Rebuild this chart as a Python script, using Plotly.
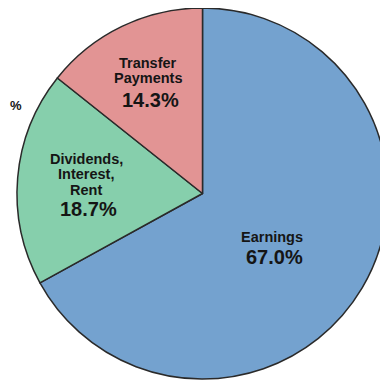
import plotly.graph_objects as go

# page body has an 8px margin, so the figure is drawn 8px in and sized to fit the window
OFF = 8
W, H = 380, 375

labels = ["Earnings", "Dividends, Interest, Rent", "Transfer Payments"]
values = [67.0, 18.7, 14.3]
colors = ["#74a2cf", "#86cfac", "#e29494"]
label_lines = [["Earnings"], ["Dividends,", "Interest,", "Rent"], ["Transfer", "Payments"]]

fig = go.Figure(go.Pie(
    labels=labels, values=values, sort=False, direction="clockwise", rotation=0,
    marker=dict(colors=colors, line=dict(color="#2a2a2a", width=1.5)),
    textinfo="none", hoverinfo="label+percent", showlegend=False,
    domain=dict(x=[9 / W, 1.0], y=[1 - 371 / H, 1.0]),
))

# text anchor positions (window pixels) for each slice: (x, first line y, percent y)
label_pos = [(272, 237, 257), (86, 159, 209), (148, 63, 100)]
line_gap = 15.5
FONT = "Liberation Sans, Arial, sans-serif"

def P(px, py):
    return (px - OFF) / W, 1 - (py - OFF) / H

for lines, val, (cx, y0, yp) in zip(label_lines, values, label_pos):
    for i, ln in enumerate(lines):
        x, y = P(cx, y0 + i * line_gap)
        fig.add_annotation(x=x, y=y, xref="paper", yref="paper", text="<b>%s</b>" % ln,
                           showarrow=False, xanchor="center", yanchor="middle",
                           font=dict(family=FONT, size=14.5, color="#151515"))
    x, y = P(cx + 2, yp)
    fig.add_annotation(x=x, y=y, xref="paper", yref="paper", text="<b>%.1f%%</b>" % val,
                       showarrow=False, xanchor="center", yanchor="middle",
                       font=dict(family=FONT, size=20, color="#151515"))

# partial text cut at left edge
fig.add_annotation(x=0, y=1 - (106 - OFF) / H, xref="paper", yref="paper", text="<b>%</b>",
                   showarrow=False, xanchor="left", yanchor="middle",
                   font=dict(family=FONT, size=13, color="#151515"))

fig.update_layout(width=W, height=H, margin=dict(l=0, r=0, t=0, b=0),
                  paper_bgcolor="white", plot_bgcolor="white")
fig.write_html("out.html")
